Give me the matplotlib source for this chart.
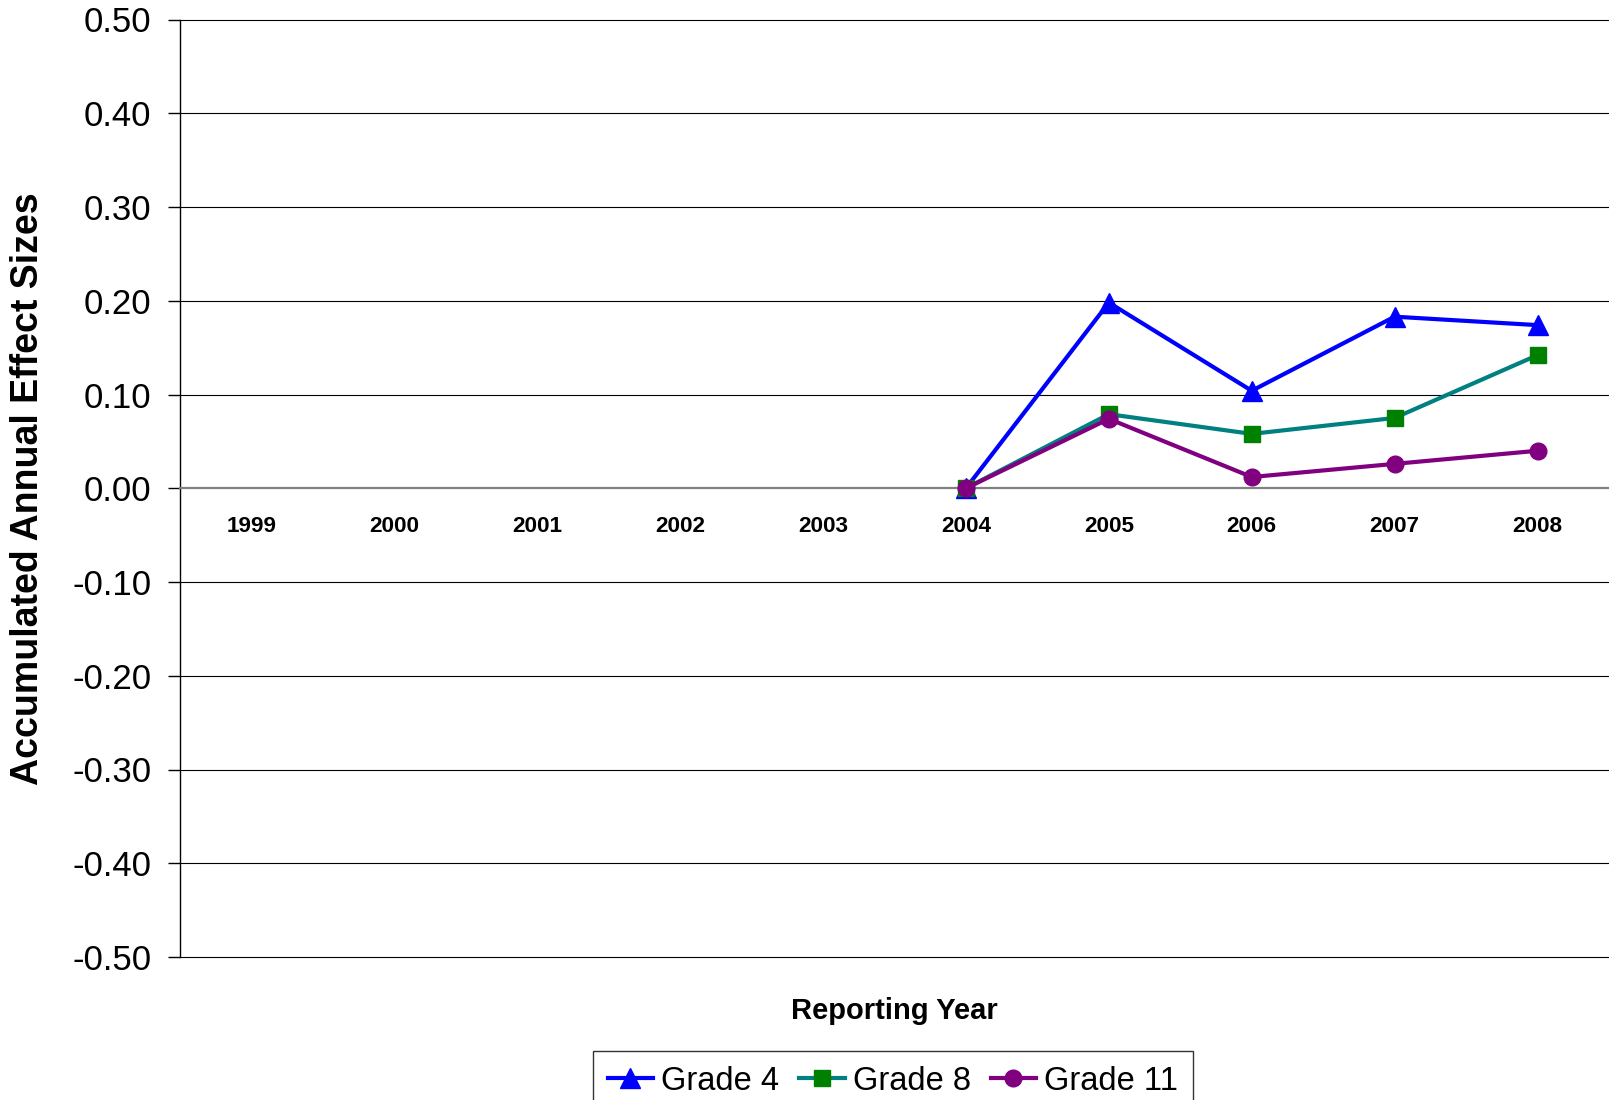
import numpy as np
import matplotlib
matplotlib.use("Agg")
import matplotlib.pyplot as plt

plt.rcParams["font.family"] = ["Liberation Sans", "DejaVu Sans"]

years = ["1999", "2000", "2001", "2002", "2003", "2004", "2005", "2006", "2007", "2008"]
nan = np.nan
grade4 = [nan, nan, nan, nan, nan, 0.000, 0.198, 0.104, 0.183, 0.174]
grade8 = [nan, nan, nan, nan, nan, 0.000, 0.079, 0.058, 0.075, 0.142]
grade11 = [nan, nan, nan, nan, nan, 0.000, 0.074, 0.012, 0.026, 0.040]
yticks = [-0.5, -0.4, -0.3, -0.2, -0.1, 0.0, 0.1, 0.2, 0.3, 0.4, 0.5]

fig = plt.figure(figsize=(16.09, 11.0), dpi=100)
ax = fig.add_axes([180 / 1609, 1 - 957 / 1100, 1 - 180 / 1609, (957 - 19.5) / 1100])

x = np.arange(len(years))
ax.plot(x, grade4, color="#0000FF", lw=3.0, marker="^", ms=14, mec="#0000FF", label="Grade 4", zorder=3)
ax.plot(x, grade8, color="#008080", lw=3.0, marker="s", ms=12, mfc="#008000", mec="#008000", label="Grade 8", zorder=4)
ax.plot(x, grade11, color="#800080", lw=3.0, marker="o", ms=12, mec="#800080", label="Grade 11", zorder=5)

ax.set_xlim(-0.5, len(years) - 0.5)
ax.set_ylim(-0.5, 0.5)
ax.set_yticks(yticks)
ax.set_yticklabels([f"{v:.2f}" for v in yticks], fontsize=25)
for v in yticks:
    if v != 0:
        ax.axhline(v, color="black", lw=0.8, zorder=1, clip_on=False)

ax.spines["top"].set_visible(False)
ax.spines["right"].set_visible(False)
ax.spines["left"].set_linewidth(1.0)
ax.spines["bottom"].set_position(("data", 0))
ax.spines["bottom"].set_color("#808080")
ax.spines["bottom"].set_linewidth(1.6)
ax.tick_params(axis="y", length=8.6, width=1.0, pad=12)
ax.tick_params(axis="x", length=0, pad=20)
ax.set_xticks(x)
ax.set_xticklabels(years, fontsize=16.2, fontweight="bold")

ax.set_ylabel("Accumulated Annual Effect Sizes", fontsize=27, fontweight="bold")
ax.yaxis.set_label_coords((46 - 180) / (1609 - 180), 0.5)
fig.text(894 / 1609, 1 - 1011 / 1100, "Reporting Year", fontsize=21, fontweight="bold",
         ha="center", va="center")

leg = fig.legend(loc="upper center", bbox_to_anchor=(893 / 1609, 1 - 1051 / 1100), ncol=3,
                 fontsize=23.5, frameon=True, fancybox=False, edgecolor="black",
                 handlelength=1.4, handletextpad=0.25, columnspacing=0.6, borderpad=0.45,
                 borderaxespad=0)
leg.get_frame().set_linewidth(1.0)

fig.savefig("out.png", dpi=100)
